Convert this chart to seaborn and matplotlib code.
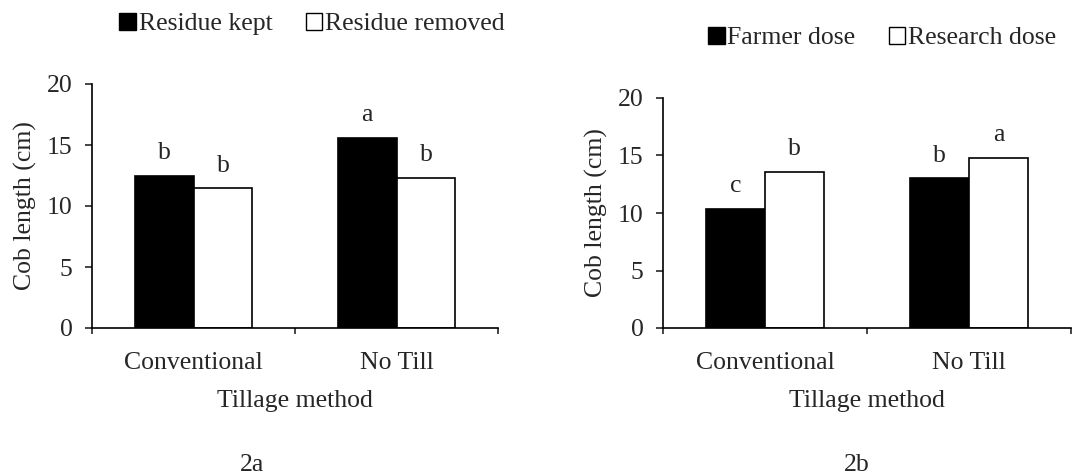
import pandas as pd
import numpy as np
import seaborn as sns
import matplotlib.pyplot as plt
from matplotlib.patches import Patch
from matplotlib.ticker import FixedLocator

# data
tillage = ['Conventional', 'No Till']
residue_groups = ['Residue kept', 'Residue removed']
residue_kept = [12.5, 15.6]
residue_removed = [11.45, 12.3]
residue_letters = ['b', 'a', 'b', 'b']   # hue order: kept (conv, NT), removed (conv, NT)

dose_groups = ['Farmer dose', 'Research dose']
farmer_dose = [10.35, 13.0]
research_dose = [13.6, 14.8]
dose_letters = ['c', 'b', 'b', 'a']

sns.set_style('white')
plt.rcParams['font.family'] = ['Liberation Serif', 'DejaVu Serif']
fs = 18.5

fig = plt.figure(figsize=(10.76, 4.74), dpi=100)
ax1 = fig.add_axes([92 / 1076, 146 / 474, 406 / 1076, 244 / 474])
ax2 = fig.add_axes([663 / 1076, 146 / 474, 408 / 1076, 230 / 474])


def draw_panel(ax, groups, vals1, vals2, letters, ytop_pad):
    df = pd.DataFrame({
        'Tillage': tillage * 2,
        'Group': [groups[0]] * 2 + [groups[1]] * 2,
        'Value': list(vals1) + list(vals2),
    })
    sns.barplot(data=df, x='Tillage', y='Value', hue='Group', order=tillage,
                hue_order=groups, palette=['black', 'white'], edgecolor='black',
                linewidth=1.2, width=0.58, errorbar=None, legend=False, ax=ax)
    bars = [p for p in ax.patches if p.get_height() > 0]
    for p, lab in zip(bars, letters):
        ax.annotate(lab, (p.get_x() + p.get_width() / 2, p.get_height()),
                    xytext=(0, ytop_pad), textcoords='offset points',
                    ha='center', va='bottom', fontsize=fs)
    ax.set_ylim(0, 20)
    ax.set_xlim(-0.5, 1.5)
    ax.set_yticks([0, 5, 10, 15, 20])
    ax.xaxis.set_minor_locator(FixedLocator([-0.5, 0.5, 1.5]))
    ax.tick_params(axis='x', which='major', length=0, pad=17, labelsize=fs)
    ax.tick_params(axis='x', which='minor', direction='out', length=4.5,
                   width=1.2, bottom=True)
    ax.tick_params(axis='y', direction='out', length=5, width=1.2, left=True,
                   pad=9, labelsize=fs)
    for s in ['top', 'right']:
        ax.spines[s].set_visible(False)
    for s in ['left', 'bottom']:
        ax.spines[s].set_linewidth(1.2)
        ax.spines[s].set_color('black')
    ax.set_xlabel('Tillage method', fontsize=fs, labelpad=12)
    ax.set_ylabel('Cob length (cm)', fontsize=fs, labelpad=7)
    ax.legend(handles=[Patch(facecolor='black', edgecolor='black', label=groups[0]),
                       Patch(facecolor='white', edgecolor='black', label=groups[1])],
              ncol=2, frameon=False, fontsize=fs, handlelength=0.65,
              handleheight=0.65, handletextpad=0.1, columnspacing=1.3,
              loc='center', borderaxespad=0)


draw_panel(ax1, residue_groups, residue_kept, residue_removed, residue_letters, 8.5)
draw_panel(ax2, dose_groups, farmer_dose, research_dose, dose_letters, 8.5)

ax1.get_legend().set_bbox_to_anchor((312 / 1076, 1 - 24 / 474), transform=fig.transFigure)
ax2.get_legend().set_bbox_to_anchor((882 / 1076, 1 - 38 / 474), transform=fig.transFigure)

fig.text(252 / 1076, 1 - 465 / 474, '2a', ha='center', va='center', fontsize=fs)
fig.text(857 / 1076, 1 - 465 / 474, '2b', ha='center', va='center', fontsize=fs)

fig.savefig('out.png', dpi=100)
